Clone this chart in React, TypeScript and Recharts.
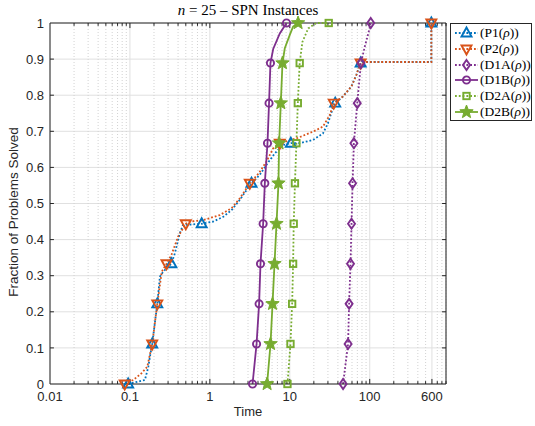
import React from 'react';
import { LineChart, Line, XAxis, YAxis, CartesianGrid, ReferenceLine } from 'recharts';

// axis ticks
const xTicks = [0.01, 0.1, 1, 10, 100, 600];
const xMinor = [
  0.02, 0.03, 0.04, 0.05, 0.06, 0.07, 0.08, 0.09,
  0.2, 0.3, 0.4, 0.5, 0.6, 0.7, 0.8, 0.9,
  2, 3, 4, 5, 6, 7, 8, 9,
  20, 30, 40, 50, 60, 70, 80, 90,
  200, 300, 400, 500, 700, 800, 900,
];
const yTicks = [0, 0.1, 0.2, 0.3, 0.4, 0.5, 0.6, 0.7, 0.8, 0.9, 1];
const xMax = 900;

// P1(rho)
const p1Time = [0.095, 0.154, 0.17, 0.178, 0.19, 0.22, 0.237, 0.26, 0.33, 0.365, 0.42, 0.46, 0.79, 1.1, 1.47, 1.87, 2.37, 2.87, 3.32, 4.2, 5.1, 6.5, 8.2, 10.3, 13.3, 19.5, 26, 30, 34, 37, 46, 59, 68, 75, 77, 85, 590, 590];
const p1Frac = [0, 0.011, 0.048, 0.076, 0.111, 0.222, 0.297, 0.311, 0.333, 0.362, 0.417, 0.44, 0.444, 0.45, 0.463, 0.482, 0.51, 0.537, 0.556, 0.579, 0.607, 0.639, 0.662, 0.667, 0.667, 0.676, 0.694, 0.722, 0.759, 0.778, 0.796, 0.824, 0.856, 0.884, 0.889, 0.892, 0.892, 1];
const p1Marks = [0, 4, 5, 8, 12, 18, 23, 29, 34, 37];

// P2(rho)
const p2Time = [0.086, 0.11, 0.14, 0.165, 0.19, 0.22, 0.25, 0.287, 0.33, 0.4, 0.5, 0.56, 0.83, 1.33, 1.87, 2.37, 3.16, 4.1, 5.1, 6.2, 7.5, 12, 19.5, 26, 31.6, 35.5, 46, 59, 68, 75, 77, 85, 590, 590];
const p2Frac = [0, 0.011, 0.03, 0.048, 0.111, 0.222, 0.311, 0.333, 0.357, 0.408, 0.444, 0.45, 0.454, 0.468, 0.487, 0.514, 0.556, 0.584, 0.616, 0.653, 0.667, 0.68, 0.699, 0.713, 0.745, 0.778, 0.796, 0.824, 0.856, 0.884, 0.889, 0.892, 0.892, 1];
const p2Marks = [0, 4, 5, 7, 10, 16, 20, 25, 30, 33];

// D1A(rho)
const d1aTime = [46.4, 53.6, 55.2, 57.5, 59.2, 61, 63.4, 69.8, 77.6, 86.6, 96, 103];
const d1aFrac = [0, 0.111, 0.222, 0.333, 0.444, 0.556, 0.667, 0.778, 0.889, 0.934, 0.971, 1];
const d1aMarks = [0, 1, 2, 3, 4, 5, 6, 7, 8, 11];

// D1B(rho)
const d1bTime = [3.42, 3.84, 4.13, 4.3, 4.64, 4.87, 5.26, 5.5, 5.73, 6.2, 7.5, 9.1];
const d1bFrac = [0, 0.111, 0.222, 0.333, 0.444, 0.556, 0.667, 0.778, 0.889, 0.928, 0.971, 1];
const d1bMarks = [0, 1, 2, 3, 4, 5, 6, 7, 8, 11];

// D2A(rho)
const d2aTime = [9.35, 10.2, 10.7, 11, 11.2, 11.6, 12.1, 12.6, 13.3, 14.4, 17, 21.5, 30.7];
const d2aFrac = [0, 0.111, 0.222, 0.333, 0.444, 0.556, 0.667, 0.778, 0.889, 0.948, 0.985, 1, 1];
const d2aMarks = [0, 1, 2, 3, 4, 5, 6, 7, 8, 12];

// D2B(rho)
const d2bTime = [5.2, 5.74, 6.08, 6.44, 6.82, 7.22, 7.35, 7.72, 8.1, 8.66, 10, 11, 12.7];
const d2bFrac = [0, 0.111, 0.222, 0.333, 0.444, 0.556, 0.667, 0.778, 0.889, 0.93, 0.967, 0.99, 1];
const d2bMarks = [0, 1, 2, 3, 4, 5, 6, 7, 8, 12];

const BLUE = '#0072BD';
const ORANGE = '#D95319';
const PURPLE = '#7E2F8E';
const GREEN = '#77AC30';
const INK = '#262626';
const SANS = '"Liberation Sans", Arial, Helvetica, sans-serif';
const SERIF = '"Liberation Serif", "Times New Roman", serif';

const build = (time: number[], frac: number[], marks: number[]) =>
  time.map((t, i) => ({ t, f: frac[i], m: marks.includes(i) }));

const series = [
  { id: 'P1', color: BLUE, dotted: true, shape: 'up', data: build(p1Time, p1Frac, p1Marks) },
  { id: 'P2', color: ORANGE, dotted: true, shape: 'down', data: build(p2Time, p2Frac, p2Marks) },
  { id: 'D1A', color: PURPLE, dotted: true, shape: 'diamond', data: build(d1aTime, d1aFrac, d1aMarks) },
  { id: 'D1B', color: PURPLE, dotted: false, shape: 'circle', data: build(d1bTime, d1bFrac, d1bMarks) },
  { id: 'D2A', color: GREEN, dotted: true, shape: 'square', data: build(d2aTime, d2aFrac, d2aMarks) },
  { id: 'D2B', color: GREEN, dotted: false, shape: 'star', data: build(d2bTime, d2bFrac, d2bMarks) },
];

const starPoints = (x: number, y: number, ro: number, ri: number) => {
  const pts: string[] = [];
  for (let k = 0; k < 10; k++) {
    const r = k % 2 === 0 ? ro : ri;
    const a = -Math.PI / 2 + (k * Math.PI) / 5;
    pts.push(`${x + r * Math.cos(a)},${y + r * Math.sin(a)}`);
  }
  return pts.join(' ');
};

const MarkerShape = ({ shape, x, y, color }: { shape: string; x: number; y: number; color: string }) => {
  const common = { fill: 'none', stroke: color, strokeWidth: 1.9 };
  switch (shape) {
    case 'up':
      return <polygon points={`${x},${y - 5.5} ${x - 5},${y + 3.5} ${x + 5},${y + 3.5}`} {...common} />;
    case 'down':
      return <polygon points={`${x - 5},${y - 3.5} ${x + 5},${y - 3.5} ${x},${y + 5.5}`} {...common} />;
    case 'diamond':
      return <polygon points={`${x},${y - 5} ${x + 3.5},${y} ${x},${y + 5} ${x - 3.5},${y}`} {...common} />;
    case 'circle':
      return <circle cx={x} cy={y} r={3.6} {...common} />;
    case 'square':
      return <rect x={x - 3.2} y={y - 3.2} width={6.4} height={6.4} {...common} />;
    case 'star':
      return <polygon points={starPoints(x, y, 7, 3)} fill={color} stroke={color} strokeWidth={1} />;
    default:
      return null;
  }
};

const makeDot = (shape: string, color: string) => (props: any) => {
  const { cx, cy, payload, index } = props;
  if (!payload || !payload.m || cx == null || cy == null) return <g key={`e-${index}`} />;
  return (
    <g key={`m-${index}`}>
      <MarkerShape shape={shape} x={cx} y={cy} color={color} />
    </g>
  );
};

const LegendBox = () => (
  <div
    style={{
      position: 'absolute',
      left: 450,
      top: 23,
      width: 82,
      height: 98,
      border: `1px solid ${INK}`,
      background: '#fff',
      boxSizing: 'border-box',
      paddingTop: 1,
    }}
  >
    {series.map((s) => (
      <div key={s.id} style={{ display: 'flex', alignItems: 'center', height: 15.8 }}>
        <svg width={29} height={16} style={{ flex: 'none' }}>
          <line
            x1={4}
            x2={27}
            y1={8}
            y2={8}
            stroke={s.color}
            strokeWidth={1.8}
            strokeDasharray={s.dotted ? '1.8 2' : undefined}
          />
          <MarkerShape shape={s.shape} x={15.5} y={8} color={s.color} />
        </svg>
        <span style={{ fontFamily: SERIF, fontSize: 13.5, color: '#000', whiteSpace: 'nowrap', lineHeight: '16px' }}>
          ({s.id}(<i>ρ</i>))
        </span>
      </div>
    ))}
  </div>
);

export default function App() {
  return (
    <div style={{ position: 'absolute', left: 0, top: 0, width: 535, height: 426, background: '#fff' }}>
      <LineChart width={535} height={426} margin={{ top: 23, right: 89, bottom: 12, left: 10 }}>
        <CartesianGrid stroke="#e0e0e0" strokeWidth={1} />
        {xMinor.map((v) => (
          <ReferenceLine key={`mg-${v}`} x={v} stroke="#d2d2d2" strokeDasharray="1 2" />
        ))}
        <XAxis
          dataKey="t"
          type="number"
          scale="log"
          domain={[0.01, xMax]}
          ticks={xTicks}
          allowDataOverflow
          height={30}
          tickLine={false}
          tickSize={0}
          tickMargin={8}
          axisLine={{ stroke: INK }}
          tick={{ fontSize: 13, fill: INK, fontFamily: SANS }}
          interval={0}
        />
        <YAxis
          type="number"
          domain={[0, 1]}
          ticks={yTicks}
          width={40}
          tickLine={false}
          tickSize={0}
          tickMargin={6}
          axisLine={{ stroke: INK }}
          tick={{ fontSize: 13, fill: INK, fontFamily: SANS }}
          interval={0}
        />
        <ReferenceLine y={1} stroke={INK} />
        <ReferenceLine x={xMax} stroke={INK} />
        {xTicks.slice(1).map((v) => (
          <ReferenceLine key={`tb-${v}`} segment={[{ x: v, y: 0 }, { x: v, y: 0.014 }]} stroke={INK} />
        ))}
        {xTicks.slice(1).map((v) => (
          <ReferenceLine key={`tt-${v}`} segment={[{ x: v, y: 1 }, { x: v, y: 0.986 }]} stroke={INK} />
        ))}
        {xMinor.map((v) => (
          <ReferenceLine key={`mb-${v}`} segment={[{ x: v, y: 0 }, { x: v, y: 0.008 }]} stroke={INK} />
        ))}
        {xMinor.map((v) => (
          <ReferenceLine key={`mt-${v}`} segment={[{ x: v, y: 1 }, { x: v, y: 0.992 }]} stroke={INK} />
        ))}
        {yTicks.slice(1, -1).map((v) => (
          <ReferenceLine key={`yl-${v}`} segment={[{ x: 0.01, y: v }, { x: 0.0112, y: v }]} stroke={INK} />
        ))}
        {yTicks.slice(1, -1).map((v) => (
          <ReferenceLine key={`yr-${v}`} segment={[{ x: xMax / 1.12, y: v }, { x: xMax, y: v }]} stroke={INK} />
        ))}
        {series.map((s) => (
          <Line
            key={s.id}
            data={s.data}
            dataKey="f"
            type="linear"
            stroke={s.color}
            strokeWidth={1.8}
            strokeDasharray={s.dotted ? '1.8 2' : undefined}
            dot={makeDot(s.shape, s.color)}
            activeDot={false}
            isAnimationActive={false}
          />
        ))}
      </LineChart>
      <div
        style={{
          position: 'absolute',
          left: 0,
          width: 496,
          top: 2,
          textAlign: 'center',
          fontFamily: SERIF,
          fontSize: 15,
          color: '#000',
        }}
      >
        <i>n</i> = 25 – SPN Instances
      </div>
      <div
        style={{
          position: 'absolute',
          left: 0,
          width: 496,
          top: 404,
          textAlign: 'center',
          fontFamily: SANS,
          fontSize: 13,
          color: INK,
        }}
      >
        Time
      </div>
      <div
        style={{
          position: 'absolute',
          left: 13,
          top: 212,
          transform: 'translate(-50%, -50%) rotate(-90deg)',
          whiteSpace: 'nowrap',
          fontFamily: SANS,
          fontSize: 13.5,
          color: INK,
        }}
      >
        Fraction of Problems Solved
      </div>
      <LegendBox />
    </div>
  );
}
